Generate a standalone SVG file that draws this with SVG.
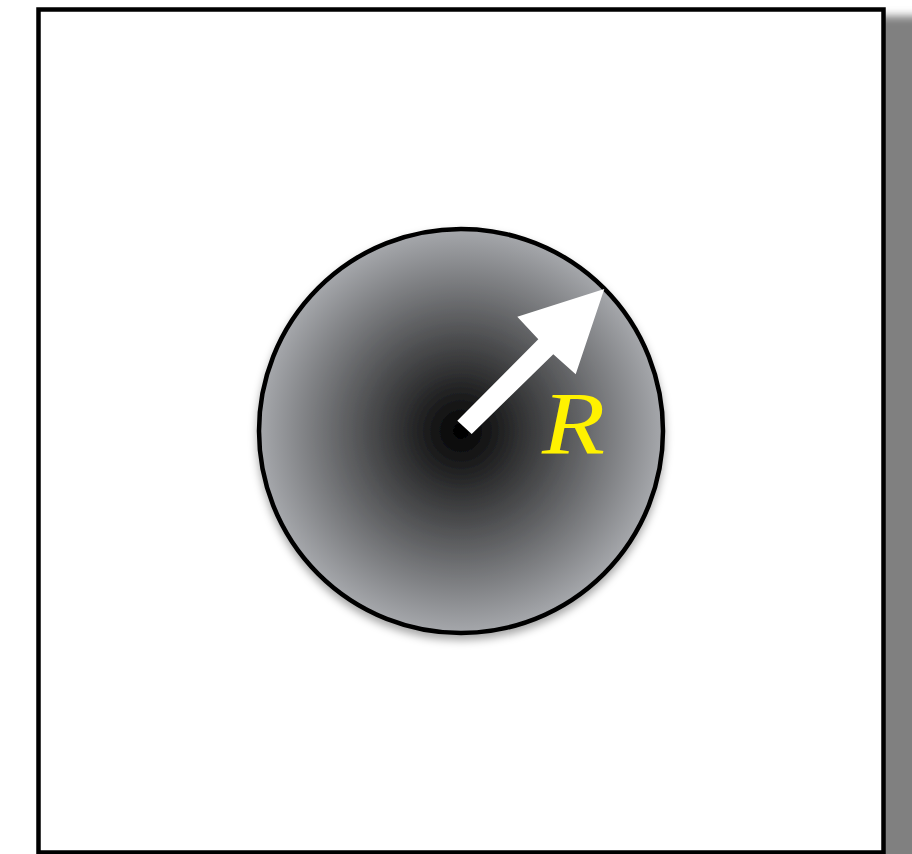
<svg xmlns="http://www.w3.org/2000/svg" width="912" height="854" viewBox="0 0 912 854">
  <defs>
    <filter id="boxShadow" x="-10%" y="-10%" width="120%" height="120%">
      <feGaussianBlur stdDeviation="4"/>
    </filter>
    <filter id="circShadow" x="-20%" y="-20%" width="140%" height="140%">
      <feDropShadow dx="0" dy="5" stdDeviation="4" flood-color="#000" flood-opacity="0.35"/>
    </filter>
    <radialGradient id="ball" cx="0.5" cy="0.5" r="0.5">
      <stop offset="0" stop-color="#000000"/>
      <stop offset="1" stop-color="#a6a8ac"/>
    </radialGradient>
    <style>
      .frame { fill: #ffffff; stroke: #000000; stroke-width: 4.5; }
      .ball { fill: url(#ball); stroke: #000000; stroke-width: 4.5; }
      .label { font-family: "Liberation Serif", "Times New Roman", serif; font-style: italic; font-size: 89px; fill: #fff200; }
    </style>
  </defs>
  <rect x="0" y="0" width="912" height="854" fill="#ffffff"/>
  <g id="shadow">
    <rect x="70" y="16" width="880" height="860" fill="#808080" filter="url(#boxShadow)"/>
  </g>
  <g id="frame">
    <rect class="frame" x="38.5" y="9.5" width="845" height="843"/>
  </g>
  <g id="sphere">
    <circle class="ball" cx="461" cy="431" r="202" filter="url(#circShadow)"/>
  </g>
  <g id="connectors">
    <polygon fill="#ffffff" points="457.3,420.7 538.3,339.3 517.3,316.7 604.3,289 575.7,374.3 553.3,354.3 471.7,434"/>
  </g>
  <g id="label">
    <text class="label" transform="translate(542,453) scale(1.16,1)" x="0" y="0">R</text>
  </g>
</svg>
